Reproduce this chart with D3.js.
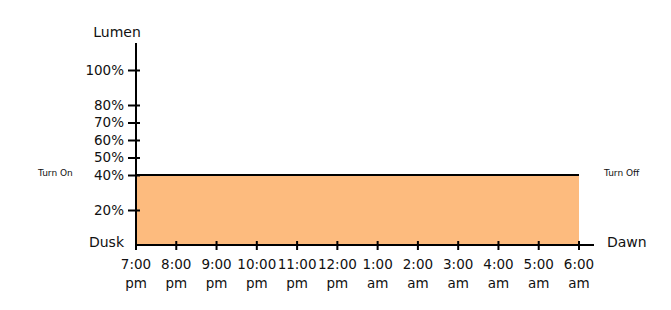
<!DOCTYPE html>
<html lang="en">
<head>
  <meta charset="UTF-8">
  <script src="https://d3js.org/d3.v7.min.js"></script>
  <title>Lumen schedule</title>
  <style>
    body { margin: 0; background: #fff; }
    svg { display: block; font-family: 'DejaVu Sans', sans-serif; }
  </style>
</head>
<body>
  <svg width="671" height="310"></svg>
  <script>
    // data
    const hours = ["7:00", "8:00", "9:00", "10:00", "11:00", "12:00", "1:00", "2:00", "3:00", "4:00", "5:00", "6:00"];
    const periods = ["pm", "pm", "pm", "pm", "pm", "pm", "am", "am", "am", "am", "am", "am"];
    const lumenTicks = [20, 40, 50, 60, 70, 80, 100];
    const lumenLevel = 40;

    const svg = d3.select("svg");
    const fontFamily = "'DejaVu Sans', sans-serif";
    const fs = 13.5;

    const x = d3.scaleLinear().domain([0, hours.length - 1]).range([136, 579]);
    const y = d3.scaleLinear().domain([0, 100]).range([245, 70]);
    const yTop = 115.5;

    // orange block (on from dusk to dawn at 40%)
    svg.append("rect")
      .attr("x", x(0))
      .attr("y", y(lumenLevel))
      .attr("width", x(hours.length - 1) - x(0))
      .attr("height", y(0) - y(lumenLevel))
      .attr("fill", "#fdbb7e");

    svg.append("line")
      .attr("x1", x(0)).attr("x2", x(hours.length - 1))
      .attr("y1", y(lumenLevel)).attr("y2", y(lumenLevel))
      .attr("stroke", "#000").attr("stroke-width", 2);

    // y axis
    const yAxis = svg.append("g")
      .attr("transform", `translate(${x(0)},0)`)
      .call(d3.axisLeft(y).tickValues(lumenTicks).tickFormat(d => d + "%").tickSize(8).tickPadding(4).tickSizeOuter(0));
    yAxis.select(".domain").remove();
    yAxis.selectAll(".tick line").attr("x1", 4).attr("stroke", "#000").attr("stroke-width", 2);
    yAxis.selectAll(".tick text").attr("font-size", fs).attr("fill", "#111").attr("font-family", fontFamily);

    svg.append("line")
      .attr("x1", x(0)).attr("x2", x(0))
      .attr("y1", y(yTop)).attr("y2", y(0) + 5)
      .attr("stroke", "#000").attr("stroke-width", 2);

    // x axis
    const xg = svg.append("g");
    xg.append("line")
      .attr("x1", x(0)).attr("x2", x(hours.length - 1) + 15)
      .attr("y1", y(0)).attr("y2", y(0))
      .attr("stroke", "#000").attr("stroke-width", 2);

    const ticks = xg.selectAll("g.xt")
      .data(hours.map((h, i) => ({ h, p: periods[i], i })))
      .enter().append("g")
      .attr("class", "xt")
      .attr("transform", d => `translate(${x(d.i)},${y(0)})`);

    ticks.append("line")
      .attr("y1", -4).attr("y2", 5)
      .attr("stroke", "#000").attr("stroke-width", 2);

    ticks.append("text")
      .attr("y", 24)
      .attr("text-anchor", "middle")
      .attr("font-size", fs).attr("fill", "#111")
      .text(d => d.h);

    ticks.append("text")
      .attr("y", 43)
      .attr("text-anchor", "middle")
      .attr("font-size", fs).attr("fill", "#111")
      .text(d => d.p);

    // labels
    svg.append("text")
      .attr("x", 117).attr("y", 37)
      .attr("text-anchor", "middle")
      .attr("font-size", 14).attr("fill", "#111")
      .text("Lumen");

    svg.append("text")
      .attr("x", 124).attr("y", y(0) + 2)
      .attr("text-anchor", "end")
      .attr("font-size", 14).attr("fill", "#111")
      .text("Dusk");

    svg.append("text")
      .attr("x", 607).attr("y", y(0) + 2)
      .attr("font-size", 14).attr("fill", "#111")
      .text("Dawn");

    svg.append("text")
      .attr("x", 38).attr("y", y(lumenLevel) + 1)
      .attr("font-size", 9).attr("fill", "#111")
      .text("Turn On");

    svg.append("text")
      .attr("x", 604).attr("y", y(lumenLevel) + 1)
      .attr("font-size", 9).attr("fill", "#111")
      .text("Turn Off");
  </script>
</body>
</html>
